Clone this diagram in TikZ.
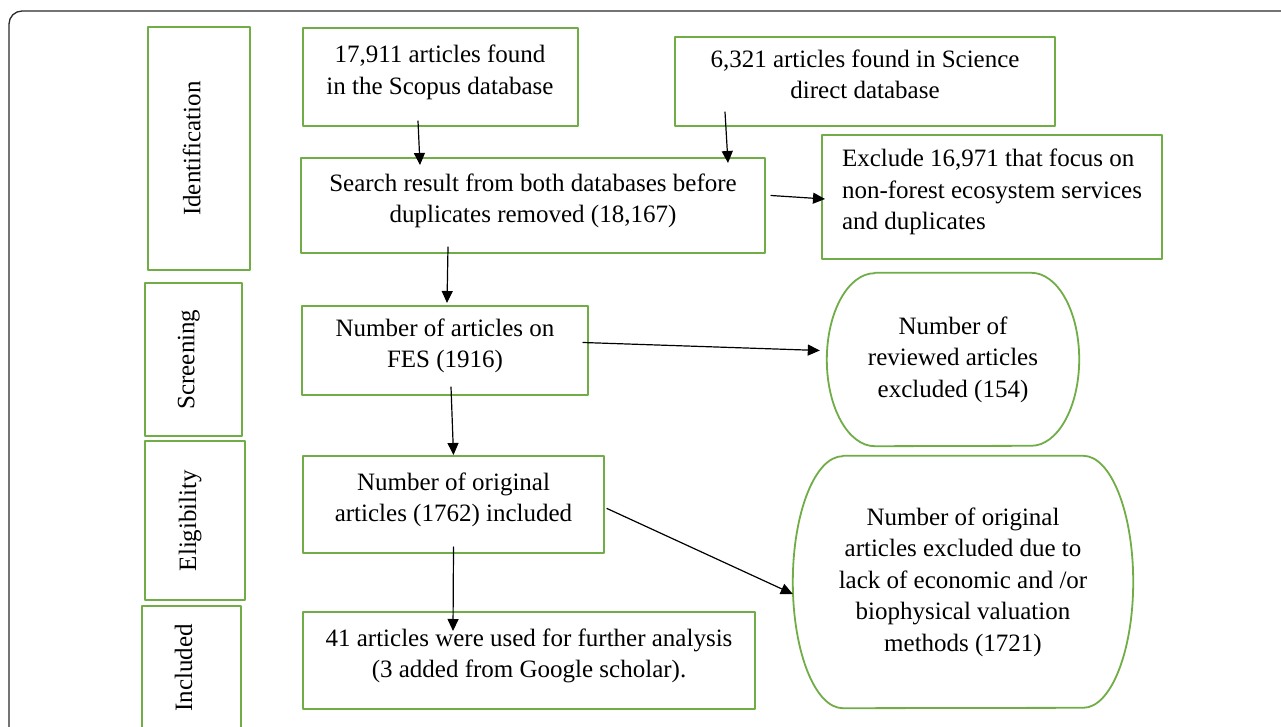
\documentclass[tikz,border=0pt]{standalone}
\usepackage{fontspec}
\setmainfont{Liberation Serif}
\usetikzlibrary{arrows.meta}
\definecolor{boxgreen}{HTML}{70AD47}
\definecolor{lineblack}{HTML}{000000}
\definecolor{framegray}{HTML}{2B2B2B}

\begin{document}
\begin{tikzpicture}[
  x=1pt,y=1pt,line cap=round,line join=round,
  font=\fontsize{25}{31.5}\selectfont,
  stepbox/.style={draw=boxgreen,line width=2pt,align=center,inner sep=0pt,
    execute at end node={\rule[-15pt]{0pt}{15pt}}},
  stagebox/.style={stepbox,rotate=90},
  ovaltext/.style={align=center,inner sep=0pt},
  ovalline/.style={boxgreen,line width=1.8pt},
  flow/.style={lineblack,line width=1.2pt,-{Triangle[length=12pt,width=11pt]}},
  frameline/.style={framegray,line width=1.3pt,rounded corners=13pt}
]
  \useasboundingbox (0,0) rectangle (1281,726);
  \fill[white] (0,0) rectangle (1281,726);
  \clip (0,0) rectangle (1281,726);

  % Outer frame, cut by the page edges.
  \draw[frameline] (9,-30) |- (1320,715);

  % Stage labels down the left side.
  \node[stagebox,minimum width=243pt,minimum height=102pt] (ident) at (199,577.5) {Identification};
  \node[stagebox,minimum width=153pt,minimum height=97pt] (screen) at (193.5,366.5) {Screening};
  \node[stagebox,minimum width=159pt,minimum height=100pt] (elig) at (195,205.5) {Eligibility};
  \node[stagebox,minimum width=124pt,minimum height=99pt] (incl) at (191,58) {Included};

  % Records found and kept.
  \node[stepbox,minimum width=275pt,minimum height=98pt] (scopus) at (440,649) {17,911 articles found\\in the Scopus database};
  \node[stepbox,minimum width=380pt,minimum height=89pt] (scidir) at (865,644.5) {6,321 articles found in Science\\direct database};
  \node[stepbox,minimum width=464pt,minimum height=95pt] (search) at (533,520.5) {Search result from both databases before\\duplicates removed (18,167)};
  \node[stepbox,align=left,minimum width=340pt,minimum height=124pt] (exclude) at (992,529) {Exclude 16,971 that focus on\\non-forest ecosystem services\\and duplicates};
  \node[stepbox,minimum width=286pt,minimum height=89pt] (fes) at (445,375.5) {Number of articles on\\FES (1916)};
  \node[stepbox,minimum width=301pt,minimum height=97pt] (original) at (453.5,221.5) {Number of original\\articles (1762) included};
  \node[stepbox,minimum width=452pt,minimum height=97pt] (final) at (529,65.5) {41 articles were used for further analysis\\(3 added from Google scholar).};

  % Excluded records in ovals.
  \node[ovaltext,minimum width=252pt,minimum height=173pt] (revex) at (953,366.5) {Number of\\reviewed articles\\excluded (154)};
  \node[ovaltext,minimum width=340pt,minimum height=252pt] (origex) at (963,144) {Number of original\\articles excluded due to\\lack of economic and /or\\biophysical valuation\\methods (1721)};
  \draw[ovalline] ([xshift=48pt]revex.north west) -- ([xshift=-48pt]revex.north east)
    arc[start angle=90,end angle=-90,x radius=48,y radius=86.5]
    -- ([xshift=48pt]revex.south west)
    arc[start angle=270,end angle=90,x radius=48,y radius=86.5] -- cycle;
  \draw[ovalline] ([xshift=50pt]origex.north west) -- ([xshift=-50pt]origex.north east)
    arc[start angle=90,end angle=-90,x radius=50,y radius=126]
    -- ([xshift=50pt]origex.south west)
    arc[start angle=270,end angle=90,x radius=50,y radius=126] -- cycle;

  % Arrows between the steps.
  \draw[flow] ([xshift=-22pt,yshift=6pt]scopus.south) -- ([xshift=-113pt,yshift=-8pt]search.north);
  \draw[flow] ([xshift=-140pt,yshift=15pt]scidir.south) -- ([xshift=195pt,yshift=-6pt]search.north);
  \draw[flow] ([xshift=5pt,yshift=10pt]search.east) -- ([xshift=4pt,yshift=-2pt]exclude.west);
  \draw[flow] ([xshift=-85pt,yshift=7pt]search.south) -- ([xshift=2pt,yshift=2pt]fes.north);
  \draw[flow] ([xshift=-6pt,yshift=8pt]fes.east) -- ([xshift=-7pt,yshift=9pt]revex.west);
  \draw[flow] ([xshift=6pt,yshift=9pt]fes.south) -- (original.north);
  \draw[flow] ([xshift=2pt,yshift=-4pt]original.east) -- ([yshift=-12pt]origex.west);
  \draw[flow] ([yshift=7pt]original.south) -- ([xshift=-76pt,yshift=-20pt]final.north);
\end{tikzpicture}
\end{document}
